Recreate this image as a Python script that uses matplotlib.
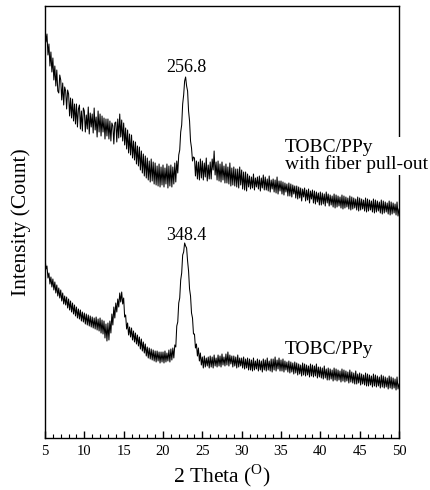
import numpy as np
import matplotlib
matplotlib.use("Agg")
import matplotlib.pyplot as plt
from matplotlib.ticker import MultipleLocator

# 2-theta grid (degrees), 0.125 step from 5 to 50 (one row = one degree)
two_theta = np.arange(5.0, 50.001, 0.125)

# Intensity (arbitrary units, curves stacked)
pullout = [
    411, 396, 404, 383, 394, 372, 386, 366,
    380, 358, 372, 352, 368, 347, 345, 363,
    358, 338, 355, 333, 351, 347, 329, 348,
    344, 322, 340, 320, 339, 317, 334, 314,
    334, 311, 329, 333, 309, 327, 307, 330,
    327, 306, 323, 309, 331, 304, 325, 311,
    324, 305, 330, 308, 321, 301, 327, 306,
    324, 302, 322, 306, 320, 299, 319, 302,
    319, 299, 317, 297, 315, 312, 294, 315,
    316, 296, 319, 300, 324, 301, 318, 297,
    315, 293, 310, 289, 308, 285, 304, 283,
    303, 280, 297, 278, 296, 274, 292, 272,
    291, 268, 287, 265, 284, 262, 282, 260,
    280, 258, 277, 256, 279, 257, 276, 254,
    275, 253, 272, 252, 274, 251, 271, 253,
    273, 251, 270, 254, 274, 250, 272, 252,
    273, 251, 271, 254, 275, 256, 277, 265,
    283, 288, 306, 313, 334, 343, 357, 361,
    352, 347, 327, 317, 297, 290, 277, 281,
    280, 262, 277, 259, 276, 258, 279, 260,
    277, 258, 275, 261, 280, 257, 273, 259,
    276, 259, 279, 268, 287, 263, 276, 258,
    277, 257, 274, 256, 276, 258, 272, 255,
    274, 255, 271, 254, 275, 252, 270, 253,
    271, 252, 269, 251, 269, 250, 271, 253,
    268, 249, 266, 248, 266, 247, 264, 251,
    262, 249, 261, 250, 264, 248, 260, 251,
    261, 249, 262, 247, 260, 250, 263, 248,
    261, 248, 259, 247, 262, 246, 258, 249,
    259, 246, 258, 245, 261, 244, 257, 247,
    257, 244, 256, 243, 255, 246, 254, 242,
    255, 242, 254, 241, 253, 244, 252, 240,
    252, 239, 251, 240, 250, 237, 249, 241,
    250, 237, 248, 238, 249, 235, 247, 239,
    248, 235, 247, 234, 246, 236, 245, 233,
    246, 233, 245, 234, 244, 232, 246, 235,
    244, 232, 243, 233, 242, 231, 244, 230,
    243, 231, 242, 232, 241, 230, 243, 229,
    242, 230, 241, 231, 240, 229, 242, 228,
    241, 229, 240, 230, 239, 228, 241, 227,
    240, 228, 239, 229, 238, 227, 240, 226,
    239, 227, 238, 228, 237, 226, 239, 225,
    238, 226, 237, 227, 236, 225, 238, 224,
    237, 225, 236, 226, 235, 224, 237, 223,
    236, 224, 235, 225, 234, 223, 236, 222,
    229,
]

plain = [
    181, 169, 172, 160, 165, 154, 161, 151,
    159, 148, 156, 145, 153, 142, 150, 140,
    148, 137, 145, 134, 142, 133, 141, 130,
    139, 128, 137, 126, 135, 124, 133, 122,
    131, 120, 129, 119, 128, 117, 126, 116,
    125, 114, 124, 113, 123, 112, 122, 111,
    121, 110, 120, 109, 121, 108, 119, 107,
    120, 105, 118, 104, 117, 100, 114, 97,
    115, 98, 117, 105, 124, 113, 131, 120,
    135, 126, 139, 131, 145, 136, 146, 134,
    140, 121, 123, 109, 115, 103, 111, 101,
    110, 98, 107, 96, 105, 94, 103, 92,
    101, 89, 99, 87, 96, 85, 94, 82,
    91, 80, 90, 79, 89, 78, 88, 77,
    87, 76, 87, 77, 86, 75, 86, 76,
    86, 75, 87, 76, 85, 77, 88, 76,
    89, 78, 90, 80, 93, 91, 112, 116,
    135, 140, 158, 165, 183, 186, 195, 192,
    190, 177, 167, 149, 142, 125, 120, 104,
    104, 90, 94, 82, 90, 77, 85, 73,
    81, 70, 82, 71, 80, 72, 81, 70,
    82, 71, 81, 70, 83, 72, 80, 71,
    83, 72, 82, 71, 84, 73, 81, 72,
    84, 73, 86, 72, 83, 74, 82, 71,
    82, 72, 81, 70, 83, 71, 80, 72,
    80, 70, 81, 69, 79, 70, 80, 68,
    79, 68, 78, 67, 80, 68, 77, 69,
    79, 67, 78, 68, 77, 66, 79, 68,
    78, 67, 80, 68, 77, 67, 79, 66,
    79, 68, 81, 67, 78, 69, 80, 67,
    78, 67, 79, 66, 77, 68, 76, 66,
    77, 65, 76, 66, 75, 64, 76, 65,
    75, 63, 74, 64, 73, 62, 75, 63,
    74, 62, 73, 63, 72, 61, 74, 62,
    73, 61, 72, 62, 74, 60, 71, 61,
    71, 60, 70, 59, 72, 60, 69, 58,
    70, 58, 69, 59, 68, 57, 70, 58,
    69, 57, 68, 58, 67, 56, 69, 57,
    68, 56, 67, 57, 66, 55, 68, 56,
    66, 55, 65, 54, 67, 54, 64, 55,
    65, 53, 64, 54, 63, 53, 65, 52,
    64, 52, 63, 53, 62, 51, 64, 52,
    63, 51, 62, 52, 61, 50, 63, 51,
    62, 50, 61, 51, 60, 49, 62, 50,
    61, 49, 60, 50, 59, 48, 61, 49,
    54,
]

peak_labels = ["256.8", "348.4"]
peak_pos = [(23.0, 370), (23.0, 203)]
series_labels = ["TOBC/PPy\nwith fiber pull-out", "TOBC/PPy"]
series_label_pos = [(35.5, 282), (35.5, 88)]

plt.rcParams['font.family'] = ['Liberation Serif', 'DejaVu Serif']
plt.rcParams['mathtext.fontset'] = 'custom'
plt.rcParams['mathtext.rm'] = 'Liberation Serif'

fig = plt.figure(figsize=(4.3, 4.9), dpi=100)
ax = fig.add_axes([45/430, 52/490, 354/430, 432/490])

ax.plot(two_theta, pullout, color='black', lw=0.75)
ax.plot(two_theta, plain, color='black', lw=0.75)

ax.set_xlim(5, 50)
ax.set_ylim(0, 432)
ax.set_yticks([])
ax.xaxis.set_major_locator(MultipleLocator(5))
ax.xaxis.set_minor_locator(MultipleLocator(1))
ax.tick_params(axis='x', which='major', direction='in', length=5, width=1,
               labelsize=10.5, pad=5, colors='black')
ax.tick_params(axis='x', which='minor', direction='in', length=3, width=0.8)
for s in ax.spines.values():
    s.set_linewidth(1.0)

for lab, (x, y) in zip(peak_labels, peak_pos):
    ax.text(x, y, lab, ha='center', va='center', fontsize=13)

for lab, (x, y) in zip(series_labels, series_label_pos):
    ax.text(x, y, lab, ha='left', va='center', fontsize=14, linespacing=1.0,
            clip_on=False, zorder=5,
            bbox=dict(facecolor='white', edgecolor='none', pad=1))

ax.set_xlabel('2 Theta ($^{\\mathrm{O}}$)', fontsize=15.5, labelpad=3)
ax.set_ylabel('Intensity (Count)', fontsize=15.5, labelpad=10)

fig.savefig('out.png', dpi=100)
